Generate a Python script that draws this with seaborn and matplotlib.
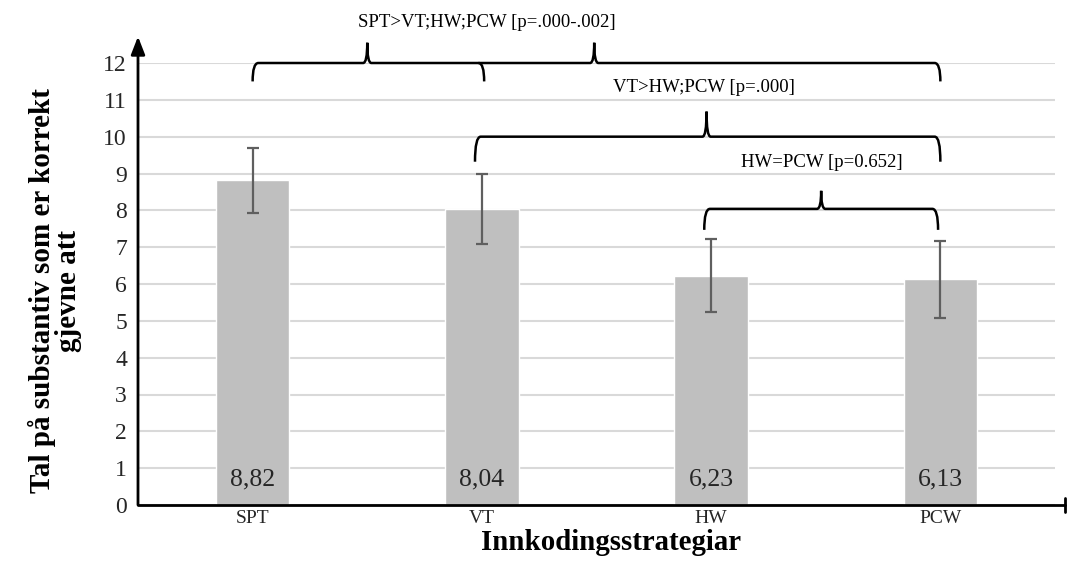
import numpy as np
import pandas as pd
import matplotlib
matplotlib.use("Agg")
import matplotlib.pyplot as plt
from matplotlib.path import Path
from matplotlib.patches import PathPatch
import seaborn as sns

# ---- data ----
categories = ["SPT", "VT", "HW", "PCW"]
means = [8.82, 8.04, 6.23, 6.13]
errors = [0.88, 0.95, 0.99, 1.05]
value_labels = ["8,82", "8,04", "6,23", "6,13"]
yticks = list(range(0, 13))

comparisons = [
    # text, x start, x end, peaks, mid hooks, y line, hook depth, peak height, text x, text y
    ("SPT>VT;HW;PCW [p=.000-.002]", 0.0, 3.0, [0.5, 1.49], [1.01], 12.0, 0.5, 0.55, 1.02, 13.1),
    ("VT>HW;PCW [p=.000]", 0.97, 3.0, [1.98], [], 10.0, 0.68, 0.68, 1.97, 11.33),
    ("HW=PCW [p=0.652]", 1.97, 2.99, [2.48], [], 8.04, 0.57, 0.49, 2.485, 9.29),
]

sns.set_theme(style="white")
plt.rcParams["font.family"] = ["Liberation Serif", "DejaVu Serif"]

fig = plt.figure(figsize=(10.67, 5.61), dpi=100)
ax = fig.add_axes([138/1067, 1-505/561, (1055-138)/1067, (505-63)/561])

df = pd.DataFrame({"cat": categories, "val": means})
sns.barplot(data=df, x="cat", y="val", color="#BFBFBF", saturation=1,
            width=0.32, errorbar=None, ax=ax, zorder=2)
ax.errorbar(np.arange(len(categories)), means, yerr=errors, fmt="none",
            ecolor="#5F5F5F", elinewidth=1.6, capsize=4.5, capthick=1.6, zorder=3)

ax.set_xlim(-0.5, 3.5)
ax.set_ylim(0, 12)
ax.set_yticks(yticks)
ax.set_yticklabels([str(t) for t in yticks], fontsize=17)
ax.tick_params(axis="y", length=0, pad=8)
ax.tick_params(axis="x", length=0, pad=3.5)
for lab in ax.get_xticklabels():
    lab.set_fontsize(14)
ax.yaxis.grid(True, color="#D9D9D9", linewidth=1.5, zorder=0)
ax.set_axisbelow(True)
for s in ax.spines.values():
    s.set_visible(False)

ax.set_xlabel("Innkodingsstrategiar", fontsize=20.8, fontweight="bold", color="black")
ax.xaxis.set_label_coords(0.516, -0.0535)
ax.set_ylabel("Tal på substantiv som er korrekt\ngjevne att", fontsize=21,
              fontweight="bold", color="black", linespacing=0.95)
ax.yaxis.set_label_coords(-0.061, 0.485)

# value labels
for i, t in enumerate(value_labels):
    ax.text(i, 0.7, t, ha="center", va="center", fontsize=18.5, color="#262626", zorder=4)

# axis lines with arrow / end bar
ax.annotate("", xy=(0, 1.06), xytext=(0, 0), xycoords="axes fraction",
            arrowprops=dict(arrowstyle="-|>,head_length=0.9,head_width=0.35",
                            color="black", lw=2, shrinkA=0, shrinkB=0), zorder=5)
ax.plot([0, 1.011], [0, 0], color="black", lw=2, transform=ax.transAxes,
        clip_on=False, zorder=5)
ax.plot([1.011, 1.011], [-0.016, 0.016], color="black", lw=2, transform=ax.transAxes,
        clip_on=False, zorder=5)

# braces
d_end = 0.025
d_pk = 0.018
for text, x0, x1, peaks, mids, y, hook, ph, tx, ty in comparisons:
    verts = [(x0, y - hook), (x0, y), (x0 + d_end, y)]
    codes = [Path.MOVETO, Path.CURVE3, Path.CURVE3]
    for p in peaks:
        verts += [(p - d_pk, y), (p, y), (p, y + ph), (p, y), (p + d_pk, y)]
        codes += [Path.LINETO, Path.CURVE3, Path.CURVE3, Path.CURVE3, Path.CURVE3]
    verts += [(x1 - d_end, y), (x1, y), (x1, y - hook)]
    codes += [Path.LINETO, Path.CURVE3, Path.CURVE3]
    patch = PathPatch(Path(verts, codes), facecolor="none", edgecolor="black",
                      lw=1.8, clip_on=False, zorder=6)
    ax.add_patch(patch)
    for m in mids:
        mv = [(m - d_end, y), (m, y), (m, y - hook)]
        mp = PathPatch(Path(mv, [Path.MOVETO, Path.CURVE3, Path.CURVE3]),
                       facecolor="none", edgecolor="black", lw=1.8, clip_on=False, zorder=6)
        ax.add_patch(mp)
    ax.text(tx, ty, text, ha="center", va="center", fontsize=13.5, color="black",
            clip_on=False)

fig.savefig("out.png", dpi=100)
